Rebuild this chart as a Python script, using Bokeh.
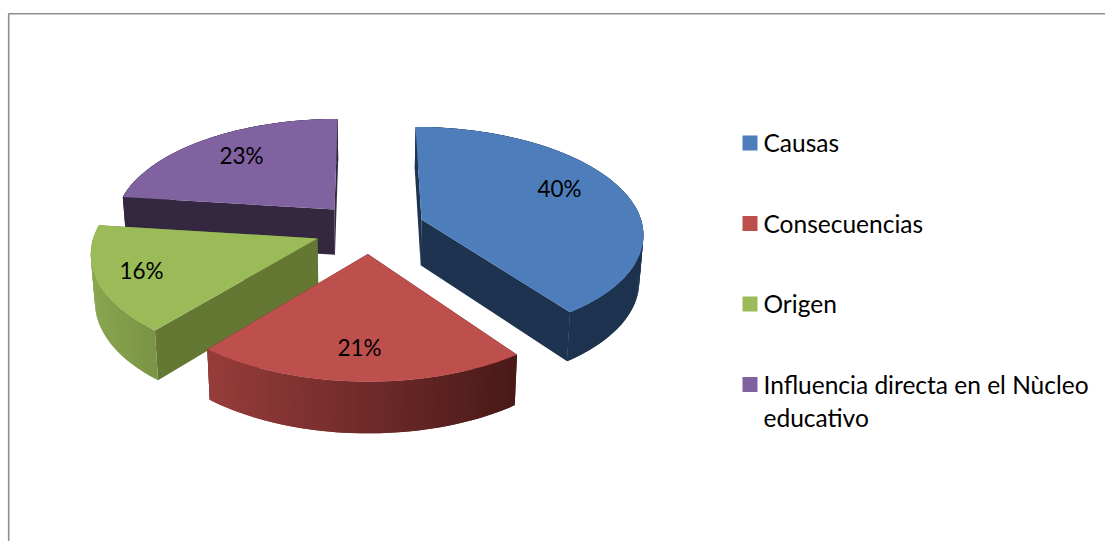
import math
from bokeh.plotting import figure
from bokeh.models import Range1d, ColumnDataSource
from bokeh.core.properties import value
from bokeh.embed import file_html
from bokeh.resources import INLINE

# data
categories = ["Causas", "Consecuencias", "Origen", "Influencia directa en el Nùcleo\neducativo"]
percent = [40, 21, 16, 23]
labels = ["40%", "21%", "16%", "23%"]

# colours
top_col = ["#4d7ebb", "#bd4f4c", "#9bbb59", "#8062a0"]
cut_col = ["#1d334f", "#4a1a18", "#647833", "#33283f"]
wall_from = ["#1d334f", "#973d3b", "#8aa650", "#33283f"]
wall_to = ["#1d334f", "#4a1a18", "#7a9445", "#33283f"]

# layout of the tilted pie, in page pixels
W, H = 1105, 541
CX, CY, RX, RY, K, DEPTH, SHRINK = 365, 229, 222, 106, 0.12, 46, 0.985
explode = [(0.255, 0.095), (0.01, -0.225), (-0.214, -0.084), (-0.143, 0.193)]
label_x = [559, 359, 141, 241]
label_y = [188, 347, 270, 155]
draw_order = [3, 2, 0, 1]
LEG_X, LEG_Y, LEG_STEP, LEG_BOX, LEG_LINE = 742, 142.5, 80.5, 15, 33
FONT = "Lato"


def project(x, y, bottom=False):
    f = 1 / (1 + K * y)
    if bottom:
        return CX + SHRINK * RX * x * f, CY - SHRINK * RY * y * f + DEPTH * f
    return CX + RX * x * f, CY - RY * y * f


def rim(i, a, bottom=False):
    ax, ay = explode[i]
    r = math.radians(a)
    return project(ax + math.sin(r), ay + math.cos(r), bottom)


def mix(c1, c2, t):
    a = [int(c1[j:j + 2], 16) for j in (1, 3, 5)]
    b = [int(c2[j:j + 2], 16) for j in (1, 3, 5)]
    return "#%02x%02x%02x" % tuple(round(p + (q - p) * t) for p, q in zip(a, b))


p = figure(width=W, height=H, x_range=Range1d(0, W), y_range=Range1d(H, 0),
           output_backend="svg", toolbar_location=None, min_border=0,
           x_axis_type=None, y_axis_type=None, outline_line_color=None,
           background_fill_color="white", border_fill_color="white")
p.grid.visible = False

# frame
p.line([8.2, 8.2, W], [H, 13.2, 13.2], line_color="#8e8e8e", line_width=1.6)

# slices
edges = [0]
for v in percent:
    edges.append(edges[-1] + v * 360 / sum(percent))

for i in draw_order:
    a0, a1 = edges[i], edges[i + 1]
    n = max(2, int(a1 - a0))
    angles = [a0 + (a1 - a0) * j / n for j in range(n + 1)]
    apex_t = project(*explode[i])
    apex_b = project(*explode[i], bottom=True)

    # cut faces
    xs, ys = [], []
    for a in (a0, a1):
        rt, rb = rim(i, a), rim(i, a, True)
        xs.append([apex_t[0], rt[0], rb[0], apex_b[0]])
        ys.append([apex_t[1], rt[1], rb[1], apex_b[1]])
    p.patches(xs, ys, fill_color=cut_col[i], line_color=None)

    # outer wall as shaded strips, dark to the right; each strip overlaps the next
    tops = [rim(i, a) for a in angles]
    bots = [rim(i, a, True) for a in angles]
    lo = min(t[0] for t in tops)
    hi = max(t[0] for t in tops)
    xs, ys, cols = [], [], []
    for j in range(n):
        e = min(j + 2, n)
        xs.append([tops[j][0], tops[e][0], bots[e][0], bots[j][0]])
        ys.append([tops[j][1], tops[e][1], bots[e][1], bots[j][1]])
        cols.append(mix(wall_from[i], wall_to[i], (tops[j][0] - lo) / (hi - lo)))
    p.patches(xs="xs", ys="ys", fill_color="c", line_color=None,
              source=ColumnDataSource(dict(xs=xs, ys=ys, c=cols)))

    # top face
    p.patch([apex_t[0]] + [t[0] for t in tops], [apex_t[1]] + [t[1] for t in tops],
            fill_color=top_col[i], line_color=None)

# value labels
p.text(label_x, label_y, text=labels, text_font=value(FONT), text_font_size="22.5px",
       text_color="#000000", text_align="center", text_baseline="middle")

# legend
for i, name in enumerate(categories):
    y = LEG_Y + i * LEG_STEP
    p.rect([LEG_X + LEG_BOX / 2], [y], width=LEG_BOX, height=LEG_BOX,
           fill_color=top_col[i], line_color=None)
    for k, line in enumerate(name.split("\n")):
        p.text([LEG_X + 21], [y + k * LEG_LINE - 0.5], text=[line], text_font=value(FONT),
               text_font_size="24.5px", text_color="#000000",
               text_align="left", text_baseline="middle")

open("out.html", "w").write(file_html(p, INLINE))
